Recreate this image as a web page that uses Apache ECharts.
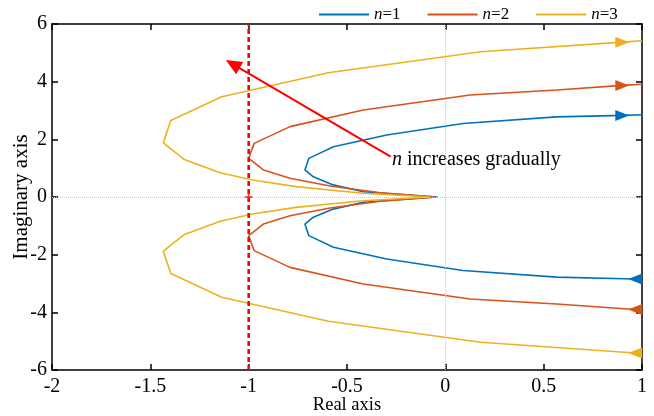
<!DOCTYPE html>
<html>
<head>
<meta charset="utf-8">
<script src="https://cdn.jsdelivr.net/npm/echarts@6/dist/echarts.min.js"></script>
<style>html,body{margin:0;padding:0;background:#fff}#c{width:654px;height:416px}</style>
</head>
<body>
<div id="c"></div>
<script>
// ---- data ----
const seriesNames = ['n=1', 'n=2', 'n=3'];
// each path: from lower end (Re=1) through the origin to the upper end (Re=1)
const n1Re = [1.0, 0.965, 0.566, 0.09, -0.298, -0.569, -0.694, -0.714, -0.671, -0.57, -0.417, -0.04,
              -0.417, -0.57, -0.671, -0.714, -0.694, -0.569, -0.298, 0.09, 0.566, 0.9, 1.0];
const n1Im = [-2.85, -2.845, -2.78, -2.55, -2.15, -1.74, -1.34, -0.94, -0.70, -0.42, -0.18, 0.0,
              0.18, 0.42, 0.70, 0.94, 1.34, 1.74, 2.15, 2.55, 2.78, 2.83, 2.85];
const n2Re = [1.0, 0.965, 0.566, 0.126, -0.417, -0.79, -0.972, -1.0, -0.925, -0.79, -0.586, -0.33, -0.052,
              -0.33, -0.586, -0.79, -0.925, -1.0, -0.972, -0.79, -0.417, 0.126, 0.566, 0.9, 1.0];
const n2Im = [-3.91, -3.90, -3.71, -3.54, -3.02, -2.44, -1.86, -1.34, -0.94, -0.65, -0.38, -0.15, 0.0,
              0.15, 0.38, 0.65, 0.94, 1.34, 1.86, 2.44, 3.02, 3.54, 3.71, 3.87, 3.91];
const n3Re = [1.0, 0.965, 0.18, -0.595, -1.137, -1.396, -1.434, -1.33, -1.145, -0.98, -0.76, -0.42, -0.078,
              -0.42, -0.76, -0.98, -1.145, -1.33, -1.434, -1.396, -1.137, -0.595, 0.18, 0.9, 1.0];
const n3Im = [-5.42, -5.41, -5.04, -4.31, -3.48, -2.65, -1.88, -1.31, -0.84, -0.59, -0.36, -0.13, 0.0,
              0.13, 0.36, 0.59, 0.84, 1.31, 1.88, 2.65, 3.48, 4.31, 5.04, 5.37, 5.42];
// critical line Re = -1 and critical point
const critRe = [-1, -1];
const critIm = [-6, 6];
const critPoint = [-1, 0];
// annotation arrow (from text to tip)
const annotRe = [-0.278, -1.081];
const annotIm = [1.40, 4.61];
const annotText = 'n increases gradually';
// axes
const xMin = -2, xMax = 1, xStep = 0.5;
const yMin = -6, yMax = 6, yStep = 2;

// ---- chart ----
const colors = ['#0072BD', '#D95319', '#EDB120'];
const FONT = '"Liberation Serif", "Times New Roman", serif';

function buildData(re, im) {
  const last = re.length - 1;
  return re.map((x, i) => {
    const item = { value: [x, im[i]] };
    if (i === 1) { item.symbol = 'triangle'; item.symbolRotate = 90; item.symbolSize = [11, 14]; }
    if (i === last - 1) { item.symbol = 'triangle'; item.symbolRotate = -90; item.symbolSize = [11, 14]; }
    return item;
  });
}

const curves = [[n1Re, n1Im], [n2Re, n2Im], [n3Re, n3Im]].map((p, k) => ({
  name: seriesNames[k],
  type: 'line',
  data: buildData(p[0], p[1]),
  symbol: 'none',
  showSymbol: true,
  showAllSymbol: true,
  smooth: false,
  color: colors[k],
  itemStyle: { color: colors[k] },
  lineStyle: { color: colors[k], width: 1.6 },
  z: 3,
  silent: true,
  animation: false
}));

const chart = echarts.init(document.getElementById('c'), null, { renderer: 'canvas' });

const axisCommon = {
  type: 'value',
  axisLine: { show: true, onZero: false, lineStyle: { color: '#000', width: 1.5 } },
  axisTick: { show: true, inside: true, length: 6, lineStyle: { color: '#000', width: 1.5 } },
  splitLine: { show: false }
};

chart.setOption({
  animation: false,
  backgroundColor: '#fff',
  grid: { left: 52, right: 12, top: 24, bottom: 46, containLabel: false, outerBoundsMode: 'none' },
  legend: {
    data: seriesNames,
    left: 314, top: 1,
    icon: 'rect', itemWidth: 50, itemHeight: 2, itemGap: 27,
    textStyle: {
      fontFamily: FONT, fontSize: 17, color: '#000',
      rich: { i: { fontFamily: FONT, fontSize: 17, fontStyle: 'italic', color: '#000' },
              r: { fontFamily: FONT, fontSize: 17, color: '#000' } }
    },
    formatter: name => '{i|n}{r|' + name.slice(1) + '}'
  },
  xAxis: [
    Object.assign({}, axisCommon, {
      min: xMin, max: xMax, interval: xStep, position: 'bottom',
      name: 'Real axis', nameLocation: 'middle', nameGap: 26, nameMoveOverlap: false,
      nameTextStyle: { fontFamily: FONT, fontSize: 18.5, color: '#000' },
      axisLabel: { fontFamily: FONT, fontSize: 20, color: '#000', margin: 7,
                   formatter: v => String(v) }
    }),
    Object.assign({}, axisCommon, {
      min: xMin, max: xMax, interval: xStep, position: 'top',
      axisLabel: { show: false }
    })
  ],
  yAxis: [
    Object.assign({}, axisCommon, {
      min: yMin, max: yMax, interval: yStep, position: 'left',
      name: 'Imaginary axis', nameLocation: 'middle', nameGap: 20, nameMoveOverlap: false,
      nameTextStyle: { fontFamily: FONT, fontSize: 21, color: '#000' },
      axisLabel: { fontFamily: FONT, fontSize: 20, color: '#000', margin: 5 }
    }),
    Object.assign({}, axisCommon, {
      min: yMin, max: yMax, interval: yStep, position: 'right',
      axisLabel: { show: false }
    })
  ],
  graphic: [{
    type: 'text', left: 392, top: 150, silent: true,
    style: {
      text: '{i|n}{r|' + annotText.slice(1) + '}',
      rich: { i: { fontFamily: FONT, fontSize: 20, fontStyle: 'italic', fill: '#000' },
              r: { fontFamily: FONT, fontSize: 20, fill: '#000' } }
    }
  }],
  series: [
    {
      name: 'zero-grid', type: 'line', data: [], silent: true, z: 1,
      markLine: {
        silent: true, symbol: ['none', 'none'], label: { show: false }, animation: false,
        lineStyle: { color: '#c8c8c8', type: 'dotted', width: 1 },
        data: [{ xAxis: 0 }, { yAxis: 0 }]
      }
    },
    ...curves,
    {
      name: 'crit', type: 'line', silent: true, z: 4,
      data: critRe.map((x, i) => [x, critIm[i]]),
      symbol: 'none',
      lineStyle: { color: '#FF0000', width: 2.6, type: [5, 3] }
    },
    {
      name: 'critPoint', type: 'scatter', silent: true, z: 5,
      data: [critPoint],
      symbol: 'path://M4,0h2v4h4v2h-4v4h-2v-4h-4v-2h4z', symbolSize: 8,
      itemStyle: { color: '#FF0000' }
    },
    {
      name: 'annot', type: 'line', data: [], silent: true, z: 6,
      markLine: {
        silent: true, animation: false, symbol: ['none', 'triangle'], symbolSize: [14, 16],
        label: { show: false },
        lineStyle: { color: '#FF0000', width: 2, type: 'solid' },
        data: [[{ coord: [annotRe[0], annotIm[0]] }, { coord: [annotRe[1], annotIm[1]] }]]
      }
    }
  ]
});
</script>
</body>
</html>
